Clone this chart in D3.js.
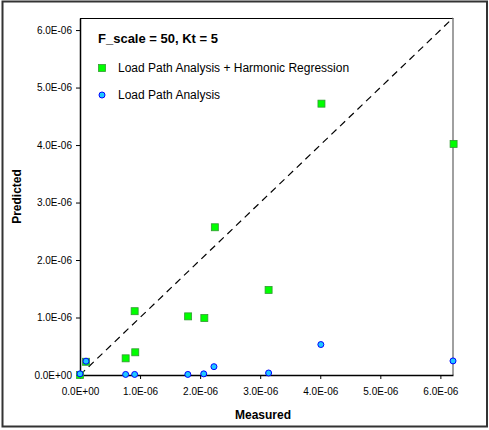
<!DOCTYPE html>
<html>
<head>
<meta charset="utf-8">
<script src="https://cdn.jsdelivr.net/npm/d3@7"></script>
<style>
  body { margin: 0; background: #fff; }
  svg { font-family: Arial, "Liberation Sans", sans-serif; }
  .axis text { font-size: 10px; fill: #000; }
  .axis path, .axis line { stroke: #000; }
</style>
</head>
<body>
<svg id="chart"></svg>
<script>
// values in units of 1e-6
const lpaHrMeasured = [0.0, 0.1, 0.76, 0.92, 0.91, 1.80, 2.07, 2.245, 3.14, 4.02, 6.22];
const lpaHrPredicted = [0.0, 0.23, 0.29, 0.395, 1.11, 1.02, 0.99, 2.57, 1.48, 4.72, 4.02];
const lpaMeasured = [0.0, 0.1, 0.76, 0.91, 1.795, 2.06, 2.23, 3.14, 4.01, 6.21];
const lpaPredicted = [0.02, 0.24, 0.01, 0.01, 0.01, 0.02, 0.145, 0.035, 0.53, 0.245];
const tickValues = [0, 1, 2, 3, 4, 5, 6];
const axisMax = 6.21;
const seriesNames = ['Load Path Analysis + Harmonic Regression', 'Load Path Analysis'];
const chartTitle = 'F_scale = 50, Kt = 5';

const width = 489;
const height = 430;
const margin = { top: 18, right: 36, bottom: 55, left: 80 };
const innerWidth = width - margin.left - margin.right;
const innerHeight = height - margin.top - margin.bottom;

const svg = d3.select('#chart')
  .attr('width', width)
  .attr('height', height);

// Outer chart frame
svg.append('rect')
  .attr('x', 2.5)
  .attr('y', 1.5)
  .attr('width', 484.5)
  .attr('height', 425)
  .attr('fill', '#fff')
  .attr('stroke', '#333')
  .attr('stroke-width', 2);

const g = svg.append('g')
  .attr('transform', `translate(${margin.left}, ${margin.top})`);

const x = d3.scaleLinear().domain([0, axisMax]).range([0, innerWidth]);
const y = d3.scaleLinear().domain([0, axisMax]).range([innerHeight, 0]);

const fmt = v => (v === 0 ? '0.0E+00' : `${v.toFixed(1)}E-06`);

// Plot area border: top black, right grey
g.append('line')
  .attr('x1', 0).attr('x2', innerWidth)
  .attr('y1', 0.5).attr('y2', 0.5)
  .attr('stroke', '#000');
g.append('line')
  .attr('x1', innerWidth).attr('x2', innerWidth)
  .attr('y1', 0).attr('y2', innerHeight)
  .attr('stroke', '#808080')
  .attr('stroke-width', 1.5);

// Axes
g.append('g')
  .attr('class', 'axis x')
  .attr('transform', `translate(0, ${innerHeight})`)
  .call(d3.axisBottom(x).tickValues(tickValues).tickFormat(fmt).tickSizeInner(4).tickSizeOuter(0).tickPadding(9))
  .call(a => a.select('.domain').attr('stroke-width', 1.5));

g.append('g')
  .attr('class', 'axis y')
  .call(d3.axisLeft(y).tickValues(tickValues).tickFormat(fmt).tickSizeInner(4).tickSizeOuter(0).tickPadding(4))
  .call(a => a.select('.domain').attr('stroke-width', 1.5));

// 1:1 line
g.append('line')
  .attr('x1', x(0)).attr('y1', y(0))
  .attr('x2', x(axisMax)).attr('y2', y(axisMax))
  .attr('stroke', '#000')
  .attr('stroke-width', 1.2)
  .attr('stroke-dasharray', '7,5');

const hrData = lpaHrMeasured.map((m, i) => ({ m, p: lpaHrPredicted[i] }));
const lpaData = lpaMeasured.map((m, i) => ({ m, p: lpaPredicted[i] }));

const sq = 7;
g.selectAll('.hr')
  .data(hrData)
  .enter().append('rect')
    .attr('class', 'hr')
    .attr('x', d => x(d.m) - sq / 2)
    .attr('y', d => y(d.p) - sq / 2)
    .attr('width', sq)
    .attr('height', sq)
    .attr('fill', '#00ff00')
    .attr('stroke', '#339933')
    .attr('stroke-width', 0.8);

g.selectAll('.lpa')
  .data(lpaData)
  .enter().append('circle')
    .attr('class', 'lpa')
    .attr('cx', d => x(d.m))
    .attr('cy', d => y(d.p))
    .attr('r', 3)
    .attr('fill', '#1ec8ff')
    .attr('stroke', '#0000ff')
    .attr('stroke-width', 1);

// Title and legend inside plot
svg.append('text')
  .attr('x', 98)
  .attr('y', 43)
  .attr('font-size', 13)
  .attr('font-weight', 'bold')
  .text(chartTitle);

const legend = svg.append('g');
legend.append('rect')
  .attr('x', 102 - sq / 2).attr('y', 68 - sq / 2)
  .attr('width', sq).attr('height', sq)
  .attr('fill', '#00ff00').attr('stroke', '#339933').attr('stroke-width', 0.8);
legend.append('circle')
  .attr('cx', 102).attr('cy', 95).attr('r', 3)
  .attr('fill', '#1ec8ff').attr('stroke', '#0000ff');
legend.selectAll('.legend-label')
  .data(seriesNames)
  .enter().append('text')
    .attr('class', 'legend-label')
    .attr('x', 118)
    .attr('y', (d, i) => 72 + i * 27)
    .attr('font-size', 12)
    .text(d => d);

// Axis titles
svg.append('text')
  .attr('x', 263)
  .attr('y', 419)
  .attr('text-anchor', 'middle')
  .attr('font-size', 12)
  .attr('font-weight', 'bold')
  .text('Measured');
svg.append('text')
  .attr('transform', `translate(21, ${margin.top + innerHeight / 2}) rotate(-90)`)
  .attr('text-anchor', 'middle')
  .attr('font-size', 12)
  .attr('font-weight', 'bold')
  .text('Predicted');
</script>
</body>
</html>
